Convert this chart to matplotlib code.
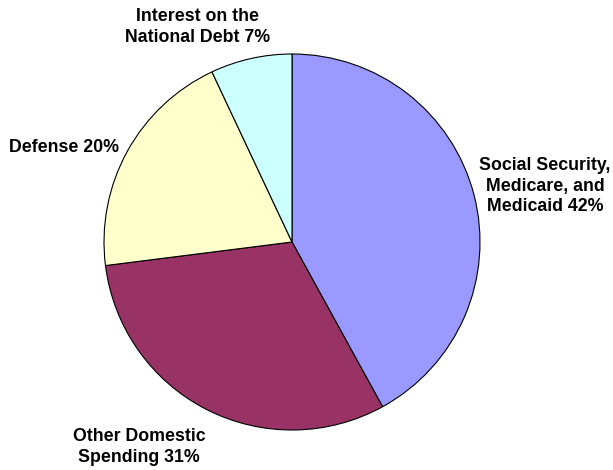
import matplotlib.pyplot as plt

# federal spending shares
categories = ['Social Security,\nMedicare, and\nMedicaid', 'Other Domestic\nSpending',
              'Defense', 'Interest on the\nNational Debt']
shares = [42, 31, 20, 7]
colors = ['#9999FF', '#993366', '#FFFFCC', '#CCFFFF']

plt.rcParams['font.family'] = ['Liberation Sans', 'DejaVu Sans']

W, H = 613, 470
fig = plt.figure(figsize=(W / 100, H / 100), dpi=100)
ax = fig.add_axes([0, 0, 1, 1])

ax.pie(shares, colors=colors, startangle=90, counterclock=False,
       center=(292, H - 242), radius=188, frame=True,
       wedgeprops=dict(edgecolor='black', linewidth=0.8))
ax.set_xlim(0, W)
ax.set_ylim(0, H)
ax.set_aspect('equal')
ax.axis('off')

labels = [c + ' %d%%' % s for c, s in zip(categories, shares)]
label_pos = [(545, 186, 'center'), (139, 447, 'center'), (9, 147, 'left'), (198, 27, 'center')]
for lab, (x, y, ha) in zip(labels, label_pos):
    ax.text(x, H - y, lab, ha=ha, va='center', multialignment='center',
            fontsize=12.8, fontweight='bold', linespacing=1.3)

fig.savefig('out.png', dpi=100)
